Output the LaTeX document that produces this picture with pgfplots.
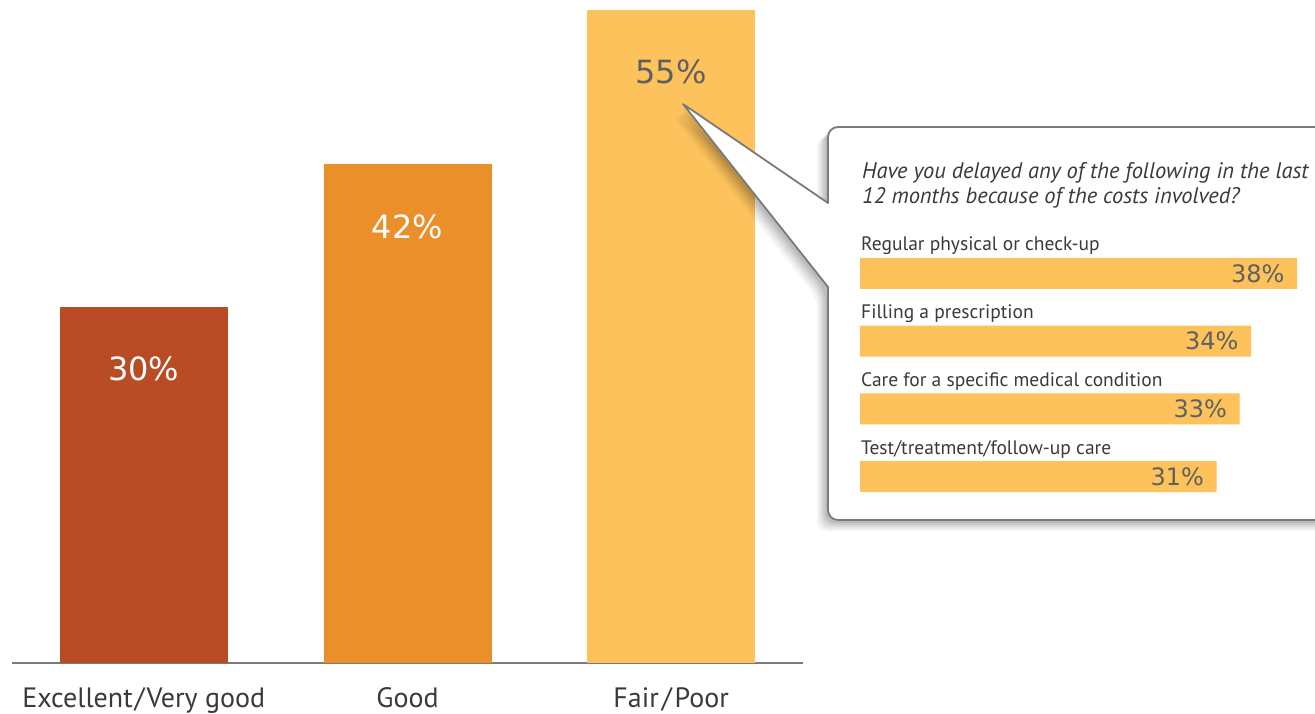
\documentclass[border=0pt]{standalone}
\usepackage{fontspec}
\setmainfont{PT Sans}
\newfontfamily\numfont{DejaVu Sans}
\usepackage{pgfplots}
\pgfplotsset{compat=1.18}
\definecolor{cA}{HTML}{B94C25}
\definecolor{cB}{HTML}{EA8F2A}
\definecolor{cC}{HTML}{FDC25C}
\definecolor{txt}{HTML}{3A3A3A}
\definecolor{numgray}{HTML}{5F6062}
\definecolor{linegray}{HTML}{7A7A7A}
\begin{document}
\begin{tikzpicture}
\path[use as bounding box] (0,0) rectangle (1315bp,-714bp);
\begin{axis}[
  at={(12bp,-663bp)}, anchor=south west,
  width=791bp, height=653bp, scale only axis,
  xmin=-0.5, xmax=2.5, ymin=0, ymax=55,
  axis x line*=bottom, axis y line=none,
  x axis line style={draw=linegray, line width=1.6bp},
  xtick={0,1,2},
  xticklabels={Excellent\kern2bp/\kern2bpVery good, Good, Fair\kern3bp/\kern3bpPoor},
  xticklabel style={font=\fontsize{28bp}{30bp}\selectfont, text=txt, yshift=-21bp},
  major tick length=0pt, ytick=\empty,
  clip=false,
  /pgf/number format/assume math mode=true,
  nodes near coords={\pgfmathprintnumber{\pgfplotspointmeta}\%},
]
\addplot[ybar, bar width=168bp, bar shift=0pt, fill=cA, draw=none,
  nodes near coords style={anchor=center, yshift=-62bp, text=white, font=\numfont\fontsize{32bp}{32bp}\selectfont}]
  coordinates {(0,30)};
\addplot[ybar, bar width=168bp, bar shift=0pt, fill=cB, draw=none,
  nodes near coords style={anchor=center, yshift=-62bp, text=white, font=\numfont\fontsize{32bp}{32bp}\selectfont}]
  coordinates {(1,42)};
\addplot[ybar, bar width=168bp, bar shift=0pt, fill=cC, draw=none,
  nodes near coords style={anchor=center, yshift=-62bp, text=numgray, font=\numfont\fontsize{32bp}{32bp}\selectfont}]
  coordinates {(2,55)};
\end{axis}
% callout
\begin{scope}[x=1bp, y=-1bp]
  \foreach \o/\op in {11/0.04, 9/0.05, 7/0.06, 5/0.07, 3/0.08} {
    \fill[black, opacity=\op, rounded corners=10bp]
      ([xshift=-\o bp, yshift=-\o bp]683,104) -- ([xshift=-\o bp, yshift=-\o bp]828,203) -- ([xshift=-\o bp, yshift=-\o bp]828,127)
      -- ([xshift=-\o bp, yshift=-\o bp]1340,127) -- ([xshift=-\o bp, yshift=-\o bp]1340,520) -- ([xshift=-\o bp, yshift=-\o bp]828,520)
      -- ([xshift=-\o bp, yshift=-\o bp]828,287) -- cycle;
  }
  \filldraw[fill=white, draw=linegray, line width=1.8bp, line join=round]
    (683,104) -- (828,203) [rounded corners=10bp] -- (828,127) -- (1340,127) -- (1340,520) -- (828,520) [sharp corners] -- (828,287) -- cycle;
  \node[anchor=base west, inner sep=0pt, text=txt, font=\itshape\fontsize{22.5bp}{25bp}\selectfont] at (862,178) {Have you delayed any of the following in the last};
  \node[anchor=base west, inner sep=0pt, text=txt, font=\itshape\fontsize{22.5bp}{25bp}\selectfont] at (862,203) {12 months because of the costs involved?};
\end{scope}
\begin{axis}[
  at={(860bp,-510.4bp)}, anchor=south west,
  width=460bp, height=270.8bp, scale only axis,
  xmin=0, xmax=40, ymin=-0.5, ymax=3.5, y dir=reverse,
  hide axis, clip=false,
  /pgf/number format/assume math mode=true,
]
\addplot[xbar, bar width=31bp, bar shift=0pt, fill=cC, draw=none,
  nodes near coords={\pgfmathprintnumber{\pgfplotspointmeta}\%},
  nodes near coords style={anchor=east, xshift=-9bp, text=numgray, font=\numfont\fontsize{24bp}{24bp}\selectfont}]
  coordinates {(38,0) (34,1) (33,2) (31,3)};
\begin{scope}[every node/.style={anchor=base west, inner sep=0pt, text=txt, font=\fontsize{19.5bp}{20bp}\selectfont, xshift=1bp, yshift=22.5bp}]
\node at (axis cs:0,0) {Regular physical or check-up};
\node at (axis cs:0,1) {Filling a prescription};
\node at (axis cs:0,2) {Care for a specific medical condition};
\node at (axis cs:0,3) {Test/treatment/follow-up care};
\end{scope}
\end{axis}
\end{tikzpicture}
\end{document}
